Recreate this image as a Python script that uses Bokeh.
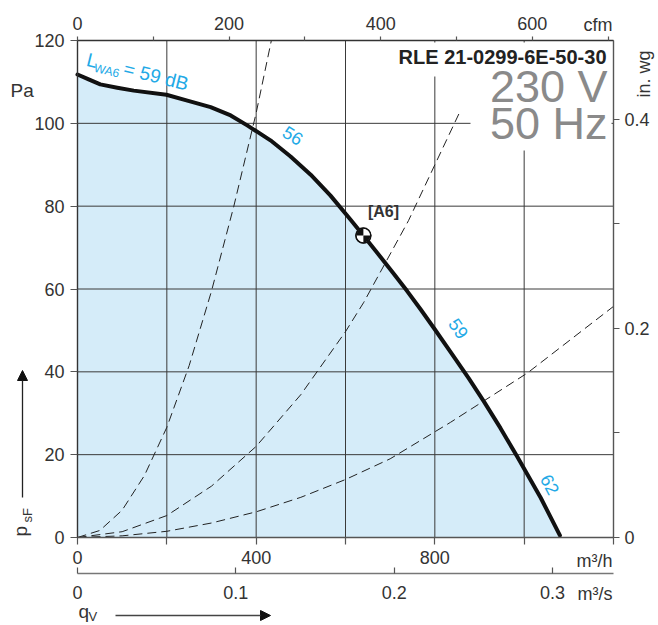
import math
from bokeh.plotting import figure
from bokeh.models import (Range1d, LinearAxis, FixedTicker, Label, Arrow,
                          NormalHead, CustomJSTickFormatter, BoxAnnotation)
from bokeh.embed import file_html
from bokeh.resources import INLINE

# ---------------- data ----------------
fan_q = [0, 25, 51, 89, 126, 199, 246, 298, 343, 380, 432, 477, 522, 566, 611, 640,
         678, 708, 738, 768, 799, 835, 876, 910, 947, 984, 1037, 1080]
fan_p = [111.8, 110.6, 109.4, 108.6, 107.9, 106.9, 105.5, 103.9, 101.9, 99.5, 95.9,
         92.0, 87.6, 82.6, 76.8, 72.9, 67.8, 63.7, 59.5, 55.1, 50.4, 44.8, 38.4,
         32.8, 26.4, 19.6, 9.6, 0.5]

sys1_q = [0, 50, 100, 150, 200, 250, 300, 350, 400, 434]
sys1_p = [0, 1.7, 6.6, 15, 26.6, 41.5, 59.5, 80, 102.5, 120]
sys2_q = [0, 100, 200, 300, 400, 500, 600, 641, 741, 857]
sys2_p = [0, 1.4, 5.3, 12.4, 22, 34.5, 49.7, 56.8, 76.5, 103]
sys3_q = [0, 100, 200, 300, 400, 500, 600, 700, 835, 1007, 1200]
sys3_p = [0, 0.4, 1.5, 3.5, 6.2, 9.7, 14, 19, 27.8, 39.7, 55.8]

a6_q = [640]
a6_p = [72.9]

m3h_ticks = [0, 400, 800]
m3h_minor = [200, 600, 1000, 1200]
grid_q = [200, 400, 600, 800, 1000]
pa_ticks = [0, 20, 40, 60, 80, 100, 120]
cfm_ticks = [0, 200, 400, 600]
cfm_minor = [100, 300, 500, 700]
m3s_ticks = [0, 0.1, 0.2, 0.3]
inwg_ticks = [0, 0.2, 0.4]
inwg_minor = [0.1, 0.3]

Q_MAX = 1200.0
P_MAX = 120.0
# secondary-scale factors as drawn in the reference
M3H_PER_CFM = 1.697
M3H_PER_M3S = 3545.0
PA_PER_INWG = 252.5

FONT = "Liberation Sans"
TXT = "#333333"
BLUE = "#22a9e6"

# canvas-pixel geometry of the chart area (canvas = whole 658x625 page)
W, H = 658, 625
PX_L, PX_R, PX_T, PX_B = 77, 613, 40, 537


def X(px):
    return (px - PX_L) * Q_MAX / (PX_R - PX_L)


def Y(py):
    return (PX_B - py) * P_MAX / (PX_B - PX_T)


p = figure(width=W, height=H, output_backend="svg", toolbar_location=None,
           x_range=Range1d(X(0), X(W)), y_range=Range1d(Y(H), Y(0)),
           x_axis_type=None, y_axis_type=None,
           min_border=0, min_border_left=0, min_border_right=0,
           min_border_top=0, min_border_bottom=0)
p.outline_line_color = None
p.background_fill_color = "white"
p.border_fill_color = "white"

p.extra_x_ranges = {"cfm": Range1d(X(0) / M3H_PER_CFM, X(W) / M3H_PER_CFM),
                    "m3s": Range1d(X(0) / M3H_PER_M3S, X(W) / M3H_PER_M3S)}
p.extra_y_ranges = {"inwg": Range1d(Y(H) / PA_PER_INWG, Y(0) / PA_PER_INWG)}

num_fmt = CustomJSTickFormatter(code="return String(tick);")


def style(ax, tick_in=0, tick_out=7, standoff=5, minor=False, color="#555555"):
    ax.axis_line_color = color
    ax.axis_line_width = 1.4
    ax.major_tick_line_color = "#555555"
    ax.major_tick_line_width = 1.2
    ax.major_tick_in = tick_in
    ax.major_tick_out = tick_out
    ax.minor_tick_line_color = "#555555"
    ax.minor_tick_line_width = 1.2
    ax.minor_tick_in = tick_in if minor else 0
    ax.minor_tick_out = tick_out if minor else 0
    ax.major_label_standoff = standoff
    ax.major_label_text_font = FONT
    ax.major_label_text_font_size = "18px"
    ax.major_label_text_color = TXT


ax_left = LinearAxis(ticker=FixedTicker(ticks=pa_ticks), fixed_location=0,
                     bounds=(0, P_MAX))
style(ax_left, tick_out=7, standoff=6, color="#333333")
p.add_layout(ax_left, "left")

ax_m3h = LinearAxis(ticker=FixedTicker(ticks=m3h_ticks, minor_ticks=m3h_minor),
                    fixed_location=0, bounds=(0, Q_MAX))
style(ax_m3h, tick_out=7, standoff=6, minor=True)
p.add_layout(ax_m3h, "below")

ax_m3s = LinearAxis(x_range_name="m3s", ticker=FixedTicker(ticks=m3s_ticks),
                    formatter=num_fmt, fixed_location=Y(573),
                    bounds=(0, Q_MAX / M3H_PER_M3S))
style(ax_m3s, tick_in=6, tick_out=0, standoff=12, color="#777777")
p.add_layout(ax_m3s, "below")

ax_cfm = LinearAxis(x_range_name="cfm",
                    ticker=FixedTicker(ticks=cfm_ticks, minor_ticks=cfm_minor),
                    fixed_location=P_MAX, bounds=(0, Q_MAX / M3H_PER_CFM))
style(ax_cfm, tick_out=4, standoff=7, minor=True, color="#333333")
p.add_layout(ax_cfm, "above")

ax_inwg = LinearAxis(y_range_name="inwg",
                     ticker=FixedTicker(ticks=inwg_ticks, minor_ticks=inwg_minor),
                     formatter=num_fmt, fixed_location=Q_MAX,
                     bounds=(0, P_MAX / PA_PER_INWG))
style(ax_inwg, tick_out=6, standoff=5, minor=True)
p.add_layout(ax_inwg, "right")

# fill under fan curve
p.varea(x=fan_q, y1=0, y2=fan_p, fill_color="#d5ecf9", level="image")

# grid lines at the tick values, limited to the chart area
p.segment(x0=grid_q, y0=0, x1=grid_q, y1=P_MAX, line_color="#3a3a3a",
          line_width=1, level="underlay")
p.segment(x0=0, y0=pa_ticks, x1=Q_MAX, y1=pa_ticks, line_color="#3a3a3a",
          line_width=1, level="underlay")

# system curves
for qs, ps in ((sys1_q, sys1_p), (sys2_q, sys2_p), (sys3_q, sys3_p)):
    p.line(qs, ps, line_color="#222222", line_width=1, line_dash="9 5")

# fan curve
p.line(fan_q, fan_p, line_color="#111111", line_width=4, line_cap="round",
       line_join="round")

# A6 marker
p.scatter(a6_q, a6_p, size=15, marker="circle", fill_color="white",
          line_color="#111111", line_width=1)
p.wedge(a6_q, a6_p, radius=7, radius_units="screen", start_angle=math.pi / 2,
        end_angle=math.pi, fill_color="#111111", line_color=None)
p.wedge(a6_q, a6_p, radius=7, radius_units="screen", start_angle=1.5 * math.pi,
        end_angle=2 * math.pi, fill_color="#111111", line_color=None)
p.scatter(a6_q, a6_p, size=15, marker="circle", fill_alpha=0,
          line_color="#111111", line_width=1.5)

# white boxes behind the title texts
p.add_layout(BoxAnnotation(left=X(395), right=X(611), top=Y(42), bottom=Y(76),
                           fill_color="white", fill_alpha=1, line_color=None))
p.add_layout(BoxAnnotation(left=X(470), right=X(611), top=Y(60), bottom=Y(150),
                           fill_color="white", fill_alpha=1, line_color=None))


def text(px, py, s, size, color=TXT, style="normal", align="left",
         angle=0.0, font=FONT):
    # (px, py) is the visual middle of the text line at its anchor side
    p.add_layout(Label(x=X(px), y=Y(py), text=s, text_font=font,
                       text_font_size=f"{size}px", text_color=color,
                       text_font_style=style, text_align=align,
                       text_baseline="middle", angle=math.radians(angle)))


text(606, 56, "RLE 21-0299-6E-50-30", 20, color="#222222", style="bold", align="right")
text(607, 86, "230 V", 45, color="#8a8a8a", align="right")
text(607, 123, "50 Hz", 45, color="#8a8a8a", align="right")

text(10, 90, "Pa", 19)
text(612, 24, "cfm", 18, align="right")
text(643, 97, "in. wg", 18, angle=90)
text(612, 560, "m³/h", 18, align="right")
text(612, 593, "m³/s", 18, align="right")

text(383, 211, "[A6]", 16, color="#333333", style="bold", align="center")

# sound power labels
ang = -14.0
text(86.6, 58.6, "L", 19, color=BLUE, angle=ang)
text(93.8, 67.0, "WA6", 12, color=BLUE, angle=ang)
text(123.6, 67.8, "= 59 dB", 19, color=BLUE, angle=ang)
text(292.5, 135, "56", 18, color=BLUE, align="center", angle=-32)
text(458, 328, "59", 18, color=BLUE, align="center", angle=-55)
text(549.5, 484, "62", 18, color=BLUE, align="center", angle=-62)

# axis quantity symbols and arrows
text(19.5, 536, "p", 19, angle=90)
text(26.5, 522, "sF", 13, angle=90)
text(78, 611, "q", 19)
text(88, 616, "V", 13)

p.add_layout(Arrow(x_start=X(22), y_start=Y(497), x_end=X(22), y_end=Y(370),
                   line_color="#222222", line_width=1.3,
                   end=NormalHead(size=10, fill_color="#111111", line_color="#111111")))
p.add_layout(Arrow(x_start=X(115), y_start=Y(615), x_end=X(270), y_end=Y(615),
                   line_color="#444444", line_width=1.3,
                   end=NormalHead(size=10, fill_color="#111111", line_color="#111111")))

open("out.html", "w").write(file_html(p, INLINE))
